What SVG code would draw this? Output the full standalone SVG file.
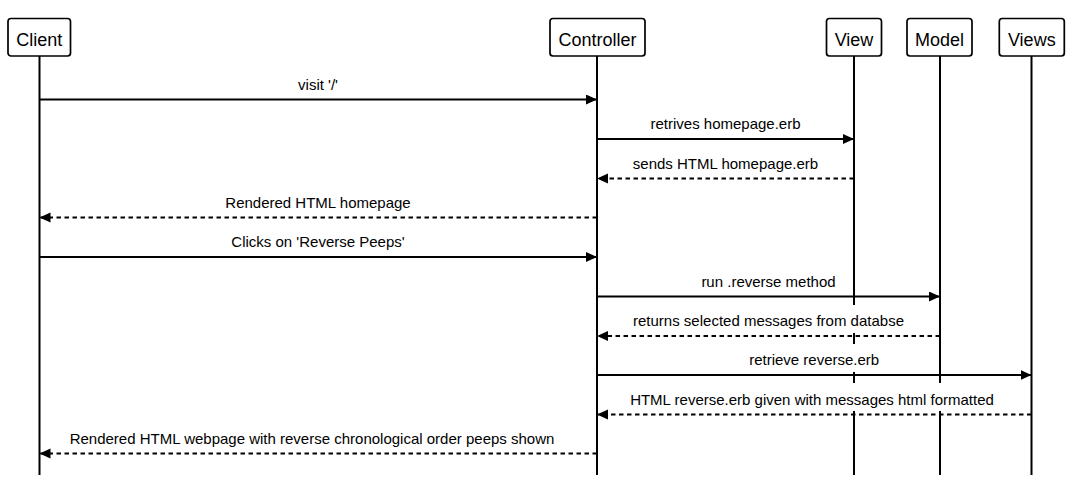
<svg xmlns="http://www.w3.org/2000/svg" width="1075" height="485" viewBox="0 0 1075 485">
<style>
.box{fill:#fff;stroke:#000;stroke-width:1.7}
.pt{font-family:"Liberation Sans",Arial,Helvetica,sans-serif;font-size:18px;fill:#000;text-anchor:middle}
.life{stroke:#000;stroke-width:2;fill:none}
.msg{stroke:#000;stroke-width:1.8;fill:none;marker-end:url(#ah)}
.ret{stroke-dasharray:4.5 3.5}
.lbl{font-family:"Liberation Sans",Arial,Helvetica,sans-serif;font-size:15px;fill:#000;text-anchor:middle}
.bg{fill:#fff;stroke:none}
</style>
<defs>
<marker id="ah" markerUnits="userSpaceOnUse" markerWidth="12" markerHeight="11" refX="11" refY="5" orient="auto">
<path d="M0,0 L11,5 L0,10 z" fill="#000"/>
</marker>
</defs>
<rect width="1075" height="485" fill="#fff"/>
<g id="lifelines">
<line class="life" x1="39.5" y1="56" x2="39.5" y2="475"/>
<line class="life" x1="597" y1="56" x2="597" y2="475"/>
<line class="life" x1="854" y1="56" x2="854" y2="475"/>
<line class="life" x1="940" y1="56" x2="940" y2="475"/>
<line class="life" x1="1031.5" y1="56" x2="1031.5" y2="475"/>
</g>
<g id="participant-client"><rect class="box" x="8" y="18.5" width="62.5" height="37.5" rx="3"/><text class="pt" x="39.3" y="46">Client</text></g>
<g id="participant-controller"><rect class="box" x="550" y="18.5" width="95" height="37.5" rx="3"/><text class="pt" x="597.5" y="46">Controller</text></g>
<g id="participant-view"><rect class="box" x="826.5" y="18.5" width="55" height="37.5" rx="3"/><text class="pt" x="854" y="46">View</text></g>
<g id="participant-model"><rect class="box" x="907" y="18.5" width="65" height="37.5" rx="3"/><text class="pt" x="939.5" y="46">Model</text></g>
<g id="participant-views"><rect class="box" x="999.3" y="18.5" width="65" height="37.5" rx="3"/><text class="pt" x="1031.8" y="46">Views</text></g>
<g id="label-backgrounds">
<rect class="bg" x="632" y="305" width="273" height="28"/>
<rect class="bg" x="748" y="344" width="133" height="28"/>
<rect class="bg" x="631" y="383" width="366" height="28"/>
</g>
<g id="connectors">
<line class="msg" x1="39.5" y1="99.5" x2="597" y2="99.5"/>
<line class="msg" x1="597" y1="139" x2="854" y2="139"/>
<line class="msg ret" x1="854" y1="178.5" x2="597" y2="178.5"/>
<line class="msg ret" x1="597" y1="217.5" x2="39.5" y2="217.5"/>
<line class="msg" x1="39.5" y1="257" x2="597" y2="257"/>
<line class="msg" x1="597" y1="296.5" x2="940" y2="296.5"/>
<line class="msg ret" x1="940" y1="336" x2="597" y2="336"/>
<line class="msg" x1="597" y1="375" x2="1031.5" y2="375"/>
<line class="msg ret" x1="1031.5" y1="414.5" x2="597" y2="414.5"/>
<line class="msg ret" x1="597" y1="453.5" x2="39.5" y2="453.5"/>
</g>
<g id="labels">
<text class="lbl" x="318" y="89.5">visit '/'</text>
<text class="lbl" x="725.5" y="129">retrives homepage.erb</text>
<text class="lbl" x="725.5" y="168.5">sends HTML homepage.erb</text>
<text class="lbl" x="318" y="207.5">Rendered HTML homepage</text>
<text class="lbl" x="318" y="247">Clicks on 'Reverse Peeps'</text>
<text class="lbl" x="768.5" y="286.5">run .reverse method</text>
<text class="lbl" x="768.5" y="326">returns selected messages from databse</text>
<text class="lbl" x="814.2" y="365">retrieve reverse.erb</text>
<text class="lbl" x="812" y="404.5">HTML reverse.erb given with messages html formatted</text>
<text class="lbl" x="312" y="443.5">Rendered HTML webpage with reverse chronological order peeps shown</text>
</g>
</svg>
